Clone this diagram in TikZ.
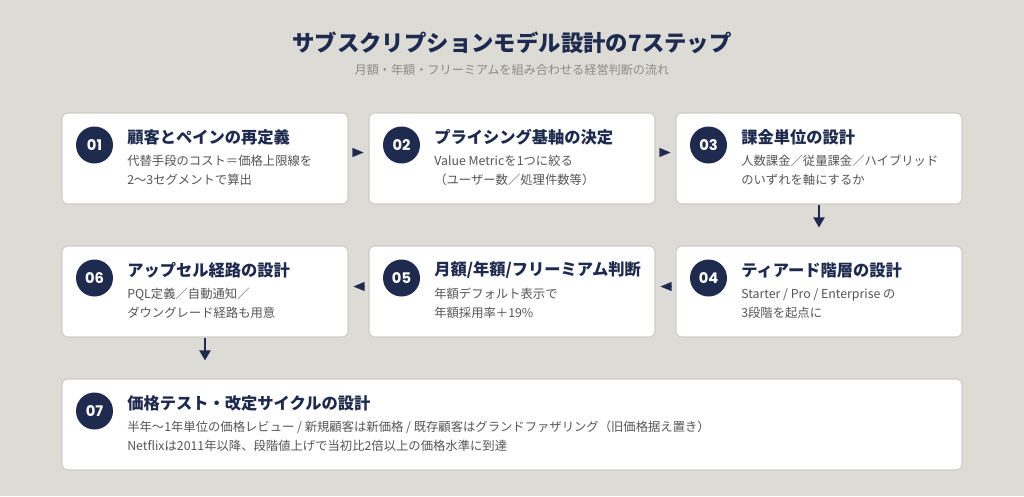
\documentclass[tikz,border=0pt]{standalone}
\usepackage{fontspec}
\setmainfont{Noto Sans CJK JP}
\newfontfamily\numfont{Poppins}
\usepackage{xcolor}
\usetikzlibrary{arrows.meta, positioning}

\definecolor{bgcol}{HTML}{DCDBD6}
\definecolor{navy}{HTML}{1E2A4E}
\definecolor{bodygray}{HTML}{555555}
\definecolor{subgray}{HTML}{8A8A88}
\definecolor{edgegray}{HTML}{CDCBC5}

\begin{document}
\begin{tikzpicture}[
    x=0.75pt, y=-0.75pt,
    stepbox/.style={rectangle, draw=edgegray, fill=white, line width=0.8pt, rounded corners=4.5pt, minimum width=214.5pt, minimum height=68.25pt},
    widebox/.style={stepbox, minimum width=675pt},
    badge/.style={circle, fill=navy, text=white, minimum size=27.75pt, inner sep=0pt, font=\numfont\bfseries\fontsize{11}{12}\selectfont},
    steptitle/.style={anchor=west, inner sep=0pt, text=navy, font=\bfseries\fontsize{12.2}{14}\selectfont},
    stepbody/.style={anchor=west, inner sep=0pt, align=left, text=bodygray, font=\fontsize{9.25}{14.25}\selectfont},
    flowside/.style={-{Triangle[length=8.25pt, width=6.75pt]}, navy, line width=0.1pt, shorten <=3.75pt, shorten >=3.75pt},
    flowdown/.style={-{Triangle[length=7.5pt, width=8.25pt]}, navy, line width=1.5pt, shorten >=13.5pt}
]

% Background
\fill[bgcol] (0,0) rectangle (1024,496);
\useasboundingbox (0,0) rectangle (1024,496);

% Heading
\node[text=navy, font=\bfseries\fontsize{16.8}{20}\selectfont] (title) at (512,43) {サブスクリプションモデル設計の7ステップ};
\node[text=subgray, font=\fontsize{9.1}{11}\selectfont] (subtitle) at (512,70) {月額・年額・フリーミアムを組み合わせる経営判断の流れ};

% Row 1
\node[stepbox] (s1) at (205,158.5) {};
\node[badge] (n1) at (94.5,145) {01};
\node[steptitle] (t1) at (127,137) {顧客とペインの再定義};
\node[stepbody] (b1) at (127,170.5) {代替手段のコスト＝価格上限線を\\2〜3セグメントで算出};

\node[stepbox] (s2) at (512,158.5) {};
\node[badge] (n2) at (401.5,145) {02};
\node[steptitle] (t2) at (434,137) {プライシング基軸の決定};
\node[stepbody] (b2) at (434,170.5) {Value Metricを1つに絞る\\（ユーザー数／処理件数等）};

\node[stepbox] (s3) at (819,158.5) {};
\node[badge] (n3) at (708.5,145) {03};
\node[steptitle] (t3) at (741,137) {課金単位の設計};
\node[stepbody] (b3) at (741,170.5) {人数課金／従量課金／ハイブリッド\\のいずれを軸にするか};

% Row 2
\node[stepbox] (s6) at (205,291.5) {};
\node[badge] (n6) at (94.5,278) {06};
\node[steptitle] (t6) at (127,270) {アップセル経路の設計};
\node[stepbody] (b6) at (127,303.5) {PQL定義／自動通知／\\ダウングレード経路も用意};

\node[stepbox] (s5) at (512,291.5) {};
\node[badge] (n5) at (401.5,278) {05};
\node[steptitle] (t5) at (434,270) {月額/年額/フリーミアム判断};
\node[stepbody] (b5) at (434,303.5) {年額デフォルト表示で\\年額採用率＋19\%};

\node[stepbox] (s4) at (819,291.5) {};
\node[badge] (n4) at (708.5,278) {04};
\node[steptitle] (t4) at (741,270) {ティアード階層の設計};
\node[stepbody] (b4) at (741,303.5) {Starter / Pro / Enterprise の\\3段階を起点に};

% Row 3
\node[widebox] (s7) at (512,424.5) {};
\node[badge] (n7) at (94.5,411) {07};
\node[steptitle] (t7) at (127,403) {価格テスト・改定サイクルの設計};
\node[stepbody] (b7) at (127,436.5) {半年〜1年単位の価格レビュー / 新規顧客は新価格 / 既存顧客はグランドファザリング（旧価格据え置き）\\Netflixは2011年以降、段階値上げで当初比2倍以上の価格水準に到達};

% Arrows
\draw[flowside] ([yshift=4.5pt]s1.east) -- ([yshift=4.5pt]s2.west);
\draw[flowside] ([yshift=4.5pt]s2.east) -- ([yshift=4.5pt]s3.west);
\draw[flowdown] (s3.south) -- (s4.north);
\draw[flowside] ([yshift=3.75pt]s4.west) -- ([yshift=3.75pt]s5.east);
\draw[flowside] ([yshift=3.75pt]s5.west) -- ([yshift=3.75pt]s6.east);
\draw[flowdown] (s6.south) -- (s6.south |- s7.north);

\end{tikzpicture}
\end{document}
